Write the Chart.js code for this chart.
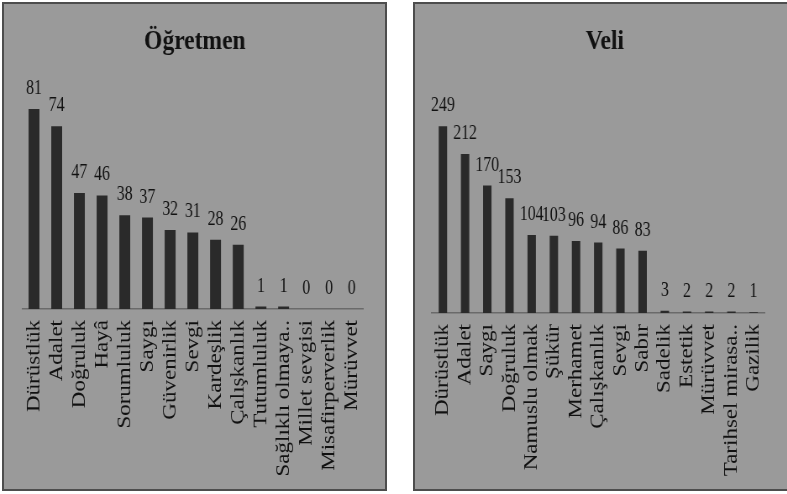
<!DOCTYPE html>
<html>
<head>
<meta charset="utf-8">
<script src="https://cdn.jsdelivr.net/npm/chart.js@4"></script>
<style>
  html, body { margin: 0; padding: 0; width: 787px; height: 494px; overflow: hidden; background: #ffffff; }
  .panel { position: absolute; box-sizing: border-box; background: #9a9a9a; border: 2px solid #4d4d4d; }
  .wrap { position: absolute; transform-origin: 0 0; transform: scaleX(0.84); }
  canvas { display: block; }
</style>
</head>
<body>
<div class="panel" style="left:2px; top:2px; width:385px; height:489px;"></div>
<div class="panel" style="left:413px; top:2px; width:380px; height:489px;"></div>
<div class="wrap" style="left:5px; top:3px;"><canvas id="c1" width="452" height="487" style="width:452px;height:487px;"></canvas></div>
<div class="wrap" style="left:415px; top:3px;"><canvas id="c2" width="442" height="487" style="width:442px;height:487px;"></canvas></div>
<script>
const teacherTitle = "Öğretmen";
const teacherLabels = ["Dürüstlük", "Adalet", "Doğruluk", "Hayâ", "Sorumluluk", "Saygı", "Güvenirlik", "Sevgi", "Kardeşlik", "Çalışkanlık", "Tutumluluk", "Sağlıklı olmaya..", "Millet sevgisi", "Misafirperverlik", "Mürüvvet"];
const teacherValues = [81, 74, 47, 46, 38, 37, 32, 31, 28, 26, 1, 1, 0, 0, 0];

const parentTitle = "Veli";
const parentLabels = ["Dürüstlük", "Adalet", "Saygı", "Doğruluk", "Namuslu olmak", "Şükür", "Merhamet", "Çalışkanlık", "Sevgi", "Sabır", "Sadelik", "Estetik", "Mürüvvet", "Tarihsel mirasa..", "Gazilik"];
const parentValues = [249, 212, 170, 153, 104, 103, 96, 94, 86, 83, 3, 2, 2, 2, 1];

const FONT = "'Liberation Serif', 'Times New Roman', serif";
const TEXT = "#111111";

const valueLabels = {
  id: 'valueLabels',
  afterDatasetsDraw(chart) {
    const ctx = chart.ctx;
    const meta = chart.getDatasetMeta(0);
    const data = chart.data.datasets[0].data;
    ctx.save();
    ctx.font = "22px " + FONT;
    ctx.fillStyle = TEXT;
    ctx.textAlign = 'center';
    ctx.textBaseline = 'alphabetic';
    meta.data.forEach((bar, i) => {
      ctx.save();
      ctx.translate(bar.x, bar.y - 15);
      ctx.scale(0.86, 1);
      ctx.fillText(String(data[i]), 0, 0);
      ctx.restore();
    });
    ctx.restore();
  }
};

function makeChart(id, title, labels, values, o) {
  return new Chart(document.getElementById(id), {
    type: 'bar',
    data: {
      labels: labels,
      datasets: [{
        data: values,
        backgroundColor: '#2a2a2a',
        borderWidth: 0,
        barPercentage: o.barPct,
        categoryPercentage: 1
      }]
    },
    options: {
      responsive: false,
      animation: false,
      layout: { padding: { left: o.padL, right: o.padR, top: 0, bottom: 0 } },
      plugins: {
        legend: { display: false },
        tooltip: { enabled: false },
        title: {
          display: true,
          text: title,
          color: TEXT,
          font: { family: FONT, size: 28, weight: 'bold', lineHeight: 1.2 },
          padding: { top: 22, bottom: o.titleBottom }
        }
      },
      scales: {
        x: {
          offset: true,
          grid: { display: true, color: 'transparent', drawTicks: false },
          border: { display: true, color: '#6a6a6a', width: 1.5 },
          ticks: {
            autoSkip: false,
            minRotation: 90,
            maxRotation: 90,
            padding: 11,
            color: TEXT,
            font: { family: FONT, size: 23 }
          },
          afterFit(scale) { scale.height = o.xHeight; }
        },
        y: {
          display: false,
          min: 0,
          max: o.yMax
        }
      }
    },
    plugins: [valueLabels]
  });
}

makeChart('c1', teacherTitle, teacherLabels, teacherValues, {
  barPct: 0.48, padL: 21, padR: 21, titleBottom: 28.1, xHeight: 181, yMax: 90
});
makeChart('c2', parentTitle, parentLabels, parentValues, {
  barPct: 0.38, padL: 20, padR: 10, titleBottom: 29.4, xHeight: 177, yMax: 300
});
</script>
</body>
</html>
